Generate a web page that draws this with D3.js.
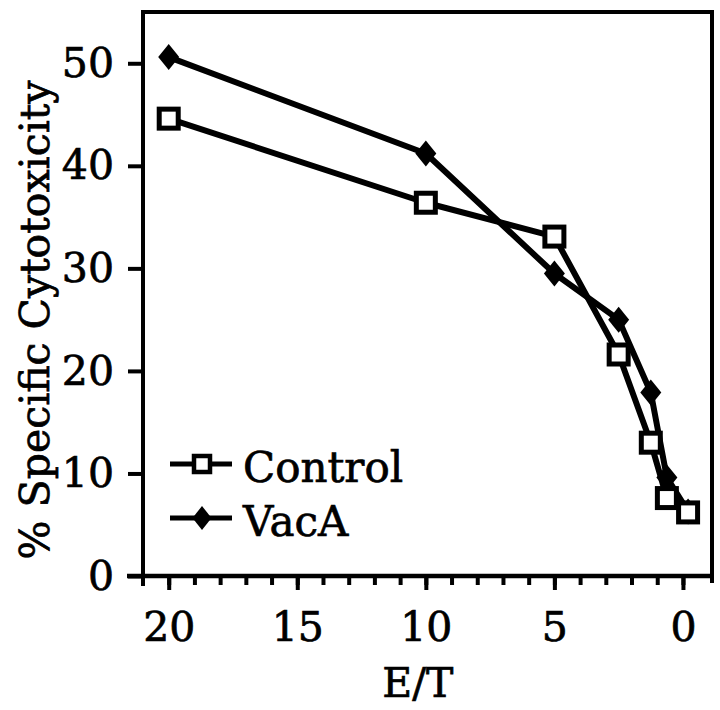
<!DOCTYPE html>
<html>
<head>
<meta charset="utf-8">
<script src="https://cdn.jsdelivr.net/npm/d3@7"></script>
<style>
  html, body { margin: 0; padding: 0; background: #fff; }
  svg { display: block; }
  text { font-family: "DejaVu Serif", "Liberation Serif", serif; fill: #000; stroke: #000; stroke-width: 0.7px; }
</style>
</head>
<body>
<svg id="chart" width="720" height="710"></svg>
<script>
// ---- data ----
const seriesNames = ["Control", "VacA"];
const controlET   = [20, 10, 5, 2.5, 1.25, 0.625, -0.2];
const controlCyto = [44.6, 36.4, 33.1, 21.6, 13.0, 7.6, 6.2];
const vacaET      = [20, 10, 5, 2.5, 1.25, 0.625, -0.2];
const vacaCyto    = [50.6, 41.2, 29.5, 25.0, 17.9, 9.6, 6.3];
const xMajorTicks = [20, 15, 10, 5, 0];
const xMinorTicks = d3.range(0, 21, 1);
const yTicks      = [0, 10, 20, 30, 40, 50];
const xTitle = "E/T";
const yTitle = "% Specific Cytotoxicity";

(function () {
// ---- layout ----
const svg = d3.select("#chart");
const pLeft = 143, pRight = 712, pTop = 12, pBottom = 576;
const x = d3.scaleLinear().domain([21, -1.13]).range([pLeft, pRight]);
const y = d3.scaleLinear().domain([0, 55]).range([pBottom, pTop]);
const FS = 41;

// frame
svg.append("rect")
  .attr("x", pLeft).attr("y", pTop)
  .attr("width", pRight - pLeft).attr("height", pBottom - pTop)
  .attr("fill", "none").attr("stroke", "#000").attr("stroke-width", 4);

// x-axis line extended to the left
svg.append("line")
  .attr("x1", 127).attr("x2", pRight + 2)
  .attr("y1", pBottom).attr("y2", pBottom)
  .attr("stroke", "#000").attr("stroke-width", 4.5);
svg.append("line")
  .attr("x1", pLeft).attr("x2", pLeft)
  .attr("y1", pTop - 2).attr("y2", pBottom + 10)
  .attr("stroke", "#000").attr("stroke-width", 4);
svg.append("line")
  .attr("x1", pRight).attr("x2", pRight)
  .attr("y1", pTop - 2).attr("y2", pBottom + 7)
  .attr("stroke", "#000").attr("stroke-width", 4);

// minor x ticks
const xMinor = svg.append("g").attr("transform", `translate(0,${pBottom})`)
  .call(d3.axisBottom(x).tickValues(xMinorTicks).tickSize(9).tickFormat(""));
xMinor.select(".domain").remove();
xMinor.selectAll(".tick line").attr("stroke-width", 4);

// major x ticks with labels
const xMajor = svg.append("g").attr("transform", `translate(0,${pBottom})`)
  .call(d3.axisBottom(x).tickValues(xMajorTicks).tickSize(14).tickPadding(22).tickFormat(d3.format("d")));
xMajor.select(".domain").remove();
xMajor.selectAll(".tick line").attr("stroke-width", 4);
xMajor.selectAll(".tick text")
  .style("font-family", '"DejaVu Serif", serif')
  .style("font-size", FS + "px");

// y axis
const yAx = svg.append("g").attr("transform", `translate(${pLeft},0)`)
  .call(d3.axisLeft(y).tickValues(yTicks).tickSize(15).tickPadding(14).tickFormat(d3.format("d")));
yAx.select(".domain").remove();
yAx.selectAll(".tick line").attr("stroke-width", 4);
yAx.selectAll(".tick text")
  .style("font-family", '"DejaVu Serif", serif')
  .style("font-size", FS + "px");

// titles
svg.append("text")
  .attr("x", (x(20) + x(0)) / 2 - 8).attr("y", 697)
  .attr("text-anchor", "middle")
  .style("font-size", FS + "px")
  .text(xTitle);
svg.append("text")
  .attr("transform", "translate(49,320) rotate(-90)")
  .attr("text-anchor", "middle")
  .style("font-size", FS + "px")
  .text(yTitle);

// lines & markers
const line = d3.line().x(d => x(d[0])).y(d => y(d[1]));
const controlData = controlET.map((v, i) => [v, controlCyto[i]]);
const vacaData = vacaET.map((v, i) => [v, vacaCyto[i]]);

const diamond = (w, h) => `M0,${-h/2}L${w/2},0L0,${h/2}L${-w/2},0Z`;
const SQ = 19, SQW = 5, LW = 6;

function drawVaca(g, data) {
  g.append("path").datum(data).attr("d", line)
    .attr("fill", "none").attr("stroke", "#000").attr("stroke-width", LW)
    .attr("stroke-linejoin", "round");
  g.selectAll("path.m").data(data).enter().append("path").attr("class", "m")
    .attr("transform", d => `translate(${x(d[0])},${y(d[1])})`)
    .attr("d", diamond(21, 26)).attr("fill", "#000");
}
function drawControl(g, data) {
  g.append("path").datum(data).attr("d", line)
    .attr("fill", "none").attr("stroke", "#000").attr("stroke-width", LW)
    .attr("stroke-linejoin", "round");
  g.selectAll("rect").data(data).enter().append("rect")
    .attr("x", d => x(d[0]) - SQ / 2).attr("y", d => y(d[1]) - SQ / 2)
    .attr("width", SQ).attr("height", SQ)
    .attr("fill", "#fff").attr("stroke", "#000").attr("stroke-width", SQW);
}
drawVaca(svg.append("g"), vacaData);
drawControl(svg.append("g"), controlData);

// legend
const lg = svg.append("g");
const legRows = [{name: seriesNames[0], y: 464, type: "square"}, {name: seriesNames[1], y: 518, type: "diamond"}];
legRows.forEach(r => {
  lg.append("line").attr("x1", 170).attr("x2", 232).attr("y1", r.y).attr("y2", r.y)
    .attr("stroke", "#000").attr("stroke-width", 5);
  if (r.type === "square") {
    lg.append("rect").attr("x", 202 - 8).attr("y", r.y - 8).attr("width", 16).attr("height", 16)
      .attr("fill", "#fff").attr("stroke", "#000").attr("stroke-width", 4.5);
  } else {
    lg.append("path").attr("transform", `translate(202,${r.y})`).attr("d", diamond(19, 24)).attr("fill", "#000");
  }
  lg.append("text").attr("x", 243).attr("y", r.y + 18)
    .style("font-size", (FS + 1) + "px").text(r.name);
});
})();
</script>
</body>
</html>
